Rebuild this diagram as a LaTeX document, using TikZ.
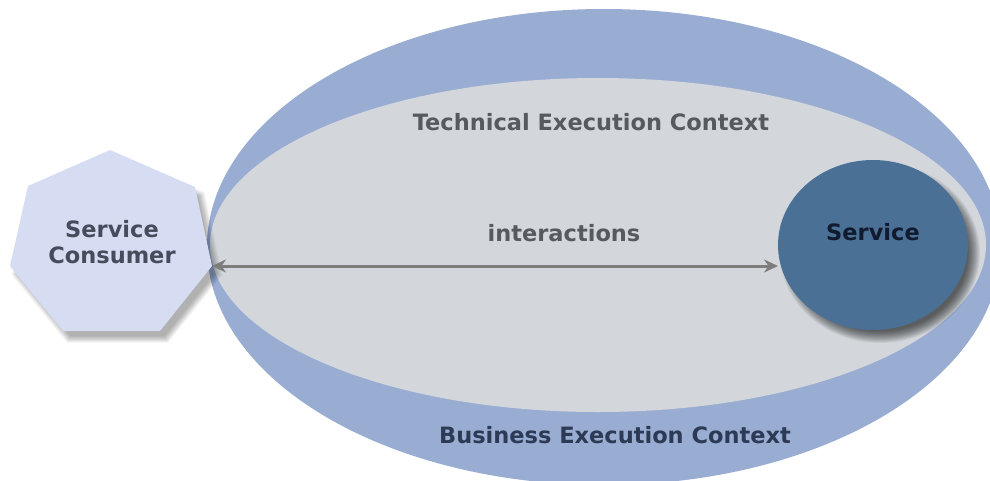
\documentclass[tikz,border=0pt]{standalone}
\usepackage{fontspec}
\setmainfont{DejaVu Sans}
\usetikzlibrary{shapes.geometric,arrows.meta}
\definecolor{ring}{RGB}{153,172,210}
\definecolor{core}{RGB}{211,215,220}
\definecolor{hept}{RGB}{214,221,243}
\definecolor{svcblue}{RGB}{74,112,150}
\definecolor{txtgray}{RGB}{86,89,94}
\definecolor{txtnavy}{RGB}{44,58,85}
\definecolor{txtdark}{RGB}{17,26,46}
\definecolor{txtcons}{RGB}{70,76,92}
\definecolor{arrowgray}{RGB}{125,125,125}
\newcommand{\heptpath}{(110,150) -- (195,187) -- (212,266) -- (160,331) -- (63,331) -- (10,266) -- (28,186) -- cycle}
\begin{document}
\begin{tikzpicture}[x=1pt,y=-1pt,
  lbl/.style={font=\fontsize{22.5}{26}\selectfont\bfseries, inner sep=0pt, align=center},
  blob/.style={ellipse, inner sep=0pt, outer sep=0pt, draw=none},
  arr/.style={draw=arrowgray, line width=3pt, {Stealth[length=14pt,width=13pt]}-{Stealth[length=14pt,width=13pt]}}
]
\useasboundingbox (0,0) rectangle (990,480);
\fill[white] (0,0) rectangle (990,480);

% contexts
\node[blob, fill=ring, minimum width=794pt, minimum height=476pt] (outer) at (604,247) {};
\node[blob, fill=core, minimum width=776pt, minimum height=334pt] (inner) at (598,245) {};

% service shadow
\foreach \k in {0,...,13}{
  \fill[black, opacity=0.055] (880,253) ellipse [x radius={100-\k*0.9}, y radius={90-\k*0.9}];
}
\node[blob, fill=svcblue, minimum width=190pt, minimum height=170pt] (svc) at (873,245) {};
\node[lbl, text=txtdark] (svclbl) at (873,232) {Service};

% consumer heptagon
\coordinate (hC) at (212,266);
\foreach \k in {0,...,13}{
  \fill[black, opacity=0.022, shift={(6,8)}, scale around={{1.045-\k*0.006}:(111,245)}] \heptpath;
}
\fill[hept] \heptpath;
\node[lbl, text=txtcons] (cons) at (112,242) {Service\\Consumer};

% labels
\node[lbl, text=txtgray] (tech) at (591,122) {Technical Execution Context};
\node[lbl, text=txtnavy] (bus) at (615,435) {Business Execution Context};
\node[lbl, text=txtgray] (inter) at (564,233) {interactions};

% interactions arrow
\draw[arr] (hC) -- (hC -| svc.west);
\end{tikzpicture}
\end{document}
